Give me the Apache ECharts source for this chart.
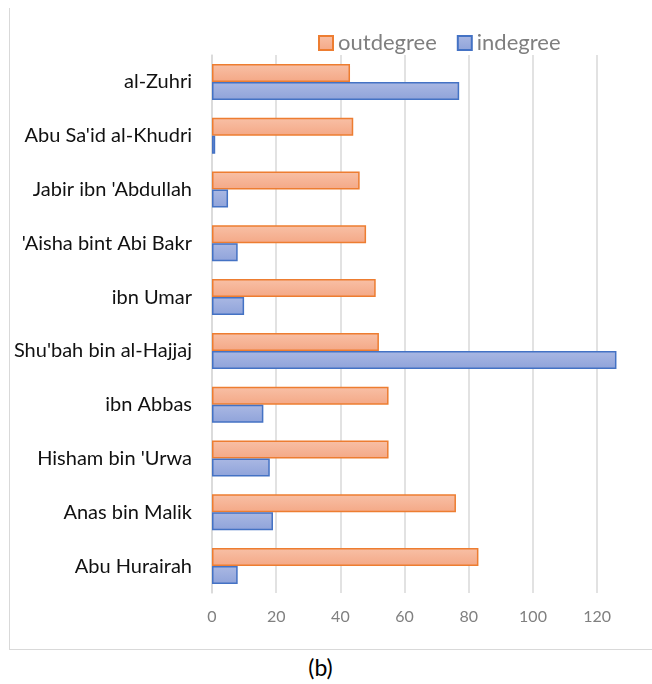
<!DOCTYPE html>
<html>
<head>
<meta charset="utf-8">
<script src="https://cdn.jsdelivr.net/npm/echarts@6/dist/echarts.min.js"></script>
<style>
html,body{margin:0;padding:0;background:#fff;overflow:hidden;width:652px;height:684px;}
#frame{position:absolute;left:9px;top:8px;width:660px;height:641px;border-left:1.5px solid #d9d9d9;border-bottom:1.5px solid #d9d9d9;}
#chart{position:absolute;left:0;top:0;width:720px;height:650px;}
#cap{position:absolute;left:0;top:653px;width:641px;text-align:center;font-family:Lato,"Open Sans",sans-serif;font-size:23px;color:#000;}
</style>
</head>
<body>
<div id="frame"></div>
<div id="chart"></div>
<div id="cap">(b)</div>
<script>
const categories = ['Abu Hurairah', 'Anas bin Malik', "Hisham bin 'Urwa", 'ibn Abbas', "Shu'bah bin al-Hajjaj", 'ibn Umar', "'Aisha bint Abi Bakr", "Jabir ibn 'Abdullah", "Abu Sa'id al-Khudri", 'al-Zuhri'];
const outdegree = [83, 76, 55, 55, 52, 51, 48, 46, 44, 43];
const indegree = [8, 19, 18, 16, 126, 10, 8, 5, 1, 77];
const xTicks = [0, 20, 40, 60, 80, 100, 120];

const chart = echarts.init(document.getElementById('chart'));
const font = 'Lato, "Open Sans", sans-serif';
function grad(a, b) {
  return new echarts.graphic.LinearGradient(0, 0, 0, 1, [{offset: 0, color: a}, {offset: 1, color: b}]);
}
chart.setOption({
  animation: false,
  textStyle: {fontFamily: font},
  legend: {
    top: 27,
    left: 313,
    icon: 'rect',
    itemWidth: 14,
    itemHeight: 14,
    itemGap: 20,
    textStyle: {color: '#7f7f7f', fontSize: 22, fontFamily: font},
    data: ['outdegree', 'indegree']
  },
  grid: {left: 212, top: 55, width: 449.4, height: 538, containLabel: false},
  xAxis: {
    type: 'value',
    min: 0,
    max: 140,
    interval: 20,
    axisLine: {show: false},
    axisTick: {show: false},
    splitLine: {lineStyle: {color: '#d9d9d9', width: 1.5}},
    axisLabel: {
      color: '#808080', fontSize: 16, margin: 16, fontFamily: font,
      showMaxLabel: false,
      formatter: v => xTicks.indexOf(v) >= 0 ? String(v) : ''
    }
  },
  yAxis: {
    type: 'category',
    data: categories,
    axisLine: {show: true, lineStyle: {color: '#d9d9d9', width: 1.5}},
    axisTick: {show: false},
    axisLabel: {color: '#111', fontSize: 20, margin: 20, fontFamily: font}
  },
  series: [
    {
      name: 'outdegree',
      type: 'bar',
      data: outdegree,
      barGap: '0%',
      barCategoryGap: '33%',
      itemStyle: {color: grad('#f8c0a6', '#f4a886'), borderColor: '#ed7d31', borderWidth: 1.5}
    },
    {
      name: 'indegree',
      type: 'bar',
      data: indegree,
      barGap: '0%',
      barCategoryGap: '33%',
      itemStyle: {color: grad('#aab8e3', '#8fa3da'), borderColor: '#4472c4', borderWidth: 1.5}
    }
  ]
});
</script>
</body>
</html>
